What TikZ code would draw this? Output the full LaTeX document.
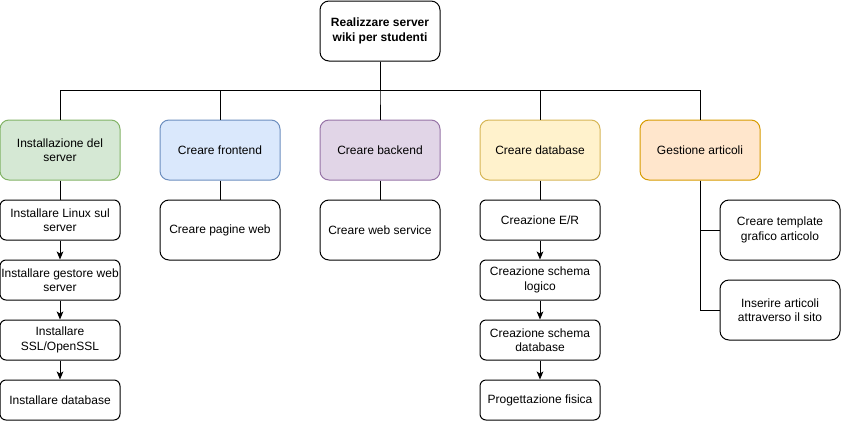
\documentclass[tikz,border=0pt]{standalone}
\usepackage{fontspec}
\setmainfont{Liberation Sans}
\usetikzlibrary{arrows.meta}
\definecolor{gfill}{HTML}{D5E8D4}\definecolor{gdraw}{HTML}{82B366}
\definecolor{bfill}{HTML}{DAE8FC}\definecolor{bdraw}{HTML}{6C8EBF}
\definecolor{pfill}{HTML}{E1D5E7}\definecolor{pdraw}{HTML}{9673A6}
\definecolor{yfill}{HTML}{FFF2CC}\definecolor{ydraw}{HTML}{D6B656}
\definecolor{ofill}{HTML}{FFE6CC}\definecolor{odraw}{HTML}{D79B00}
\begin{document}
\begin{tikzpicture}[x=0.75pt,y=-0.75pt,
  box/.style={draw, line width=0.75pt, rounded corners=6.75pt, minimum width=90pt, minimum height=45pt,
    inner sep=0pt, align=center, font=\fontsize{9pt}{10.8pt}\selectfont},
  sbox/.style={box, minimum height=30pt, rounded corners=4.5pt},
  link/.style={line width=0.75pt},
  arr/.style={link, -{Stealth[length=6pt,width=5pt,inset=1.5pt]}}]
\useasboundingbox (0,0) rectangle (841,421);
\coordinate (bus) at (0,90);
\node[box, font=\bfseries\fontsize{9pt}{10.8pt}\selectfont] (root) at (380,31) {Realizzare server\\wiki per studenti};
\node[box, fill=gfill, draw=gdraw] (a) at (60,150) {Installazione del\\server};
\node[box, fill=bfill, draw=bdraw] (b) at (220,150) {Creare frontend};
\node[box, fill=pfill, draw=pdraw] (c) at (380,150) {Creare backend};
\node[box, fill=yfill, draw=ydraw] (d) at (540,150) {Creare database};
\node[box, fill=ofill, draw=odraw] (e) at (700,150) {Gestione articoli};
\foreach \n in {a,b,c,d,e} \draw[link] (root.south) -- (root.south |- bus) -| (\n.north);
% left column
\node[sbox] (a1) at (60,220) {Installare Linux sul\\server};
\node[sbox] (a2) at (60,280) {Installare gestore web\\server};
\node[sbox] (a3) at (60,340) {Installare\\SSL/OpenSSL};
\node[sbox] (a4) at (60,400) {Installare database};
\draw[link] (a.south) -- (a1.north);
\draw[arr] (a1.south) -- (a2.north);
\draw[arr] (a2.south) -- (a3.north);
\draw[arr] (a3.south) -- (a4.north);
% frontend / backend
\node[box] (b1) at (220,230) {Creare pagine web};
\node[box] (c1) at (380,230) {Creare web service};
\draw[link] (b.south) -- (b1.north);
\draw[link] (c.south) -- (c1.north);
% database column
\node[sbox] (d1) at (540,220) {Creazione E/R};
\node[sbox] (d2) at (540,280) {Creazione schema\\logico};
\node[sbox] (d3) at (540,340) {Creazione schema\\database};
\node[sbox] (d4) at (540,400) {Progettazione fisica};
\draw[link] (d.south) -- (d1.north);
\draw[arr] (d1.south) -- (d2.north);
\draw[arr] (d2.south) -- (d3.north);
\draw[arr] (d3.south) -- (d4.north);
% articles
\node[box] (e1) at (780,230) {Creare template\\grafico articolo};
\node[box] (e2) at (780,310) {Inserire articoli\\attraverso il sito};
\draw[link] (e.south) |- (e1.west);
\draw[link] (e.south) |- (e2.west);
\end{tikzpicture}
\end{document}
